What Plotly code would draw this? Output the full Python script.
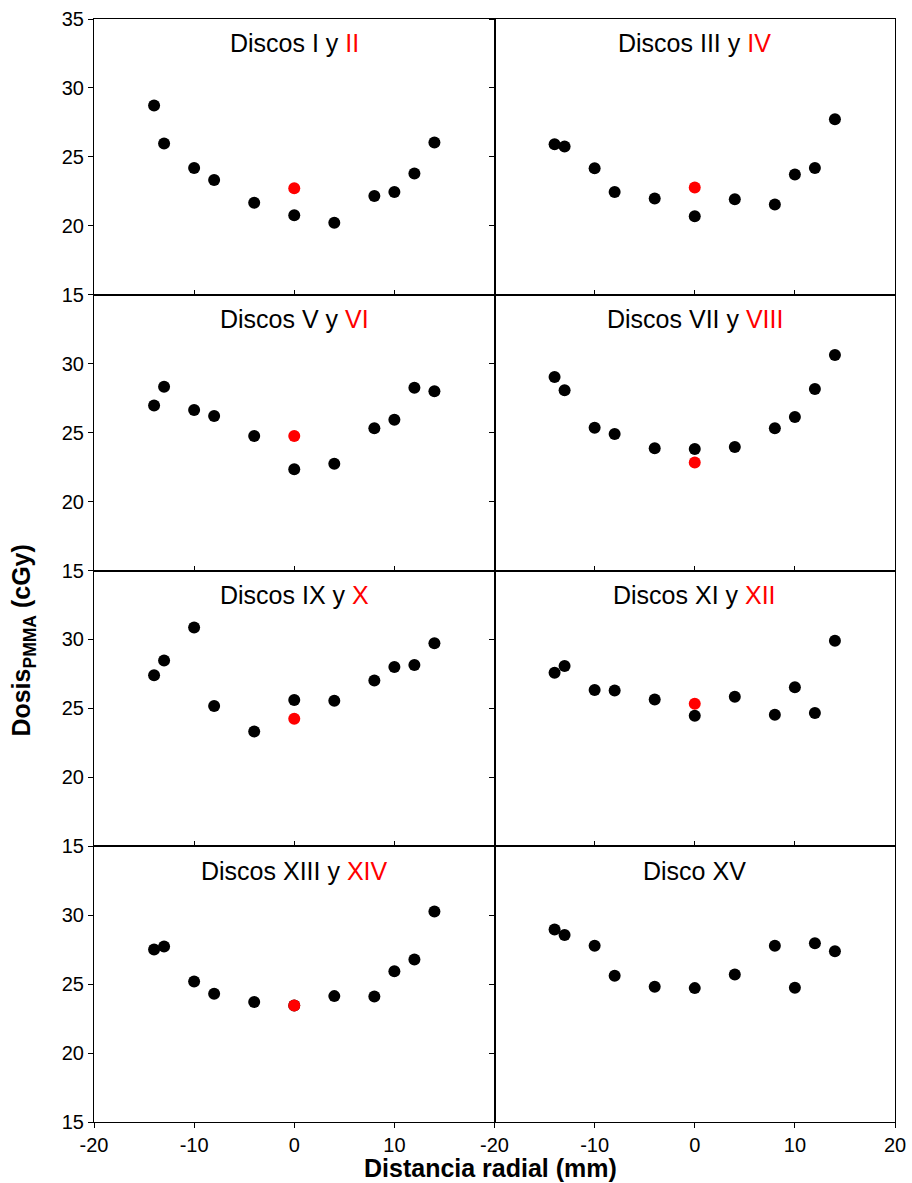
import plotly.graph_objects as go
from plotly.subplots import make_subplots

# Radial positions (mm) of the measurement points
radial_mm = [-14, -13, -10, -8, -4, 0, 4, 8, 10, 12, 14]

# Dose (cGy) per disc pair, black series
dose_I = [28.72, 25.97, 24.20, 23.33, 21.67, 20.77, 20.22, 22.17, 22.46, 23.79, 26.04]
dose_III = [25.92, 25.75, 24.18, 22.46, 21.98, 20.70, 21.93, 21.55, 23.72, 24.20, 27.73]
dose_V = [26.96, 28.33, 26.64, 26.21, 24.75, 22.34, 22.75, 25.31, 25.94, 28.26, 28.00]
dose_VII = [29.03, 28.07, 25.36, 24.90, 23.86, 23.82, 23.96, 25.31, 26.14, 28.16, 30.63]
dose_IX = [27.41, 28.48, 30.87, 25.17, 23.33, 25.60, 25.56, 27.03, 28.00, 28.14, 29.73]
dose_XI = [27.58, 28.07, 26.33, 26.30, 25.65, 24.47, 25.85, 24.54, 26.54, 24.66, 29.90]
dose_XIII = [27.51, 27.73, 25.19, 24.30, 23.70, 23.45, 24.13, 24.11, 25.94, 26.79, 30.27]
dose_XV = [28.96, 28.57, 27.78, 25.60, 24.81, 24.71, 25.70, 27.78, 24.73, 27.97, 27.39]

# Dose (cGy) at the centre for the second disc of each pair, red series
center_x = [0]
dose_II = [22.73]
dose_IV = [22.78]
dose_VI = [24.75]
dose_VIII = [22.83]
dose_X = [24.25]
dose_XII = [25.34]
dose_XIV = [23.45]

panels = [
    ("Discos I y ", "II", dose_I, dose_II),
    ("Discos III y ", "IV", dose_III, dose_IV),
    ("Discos V y ", "VI", dose_V, dose_VI),
    ("Discos VII y ", "VIII", dose_VII, dose_VIII),
    ("Discos IX y ", "X", dose_IX, dose_X),
    ("Discos XI y ", "XII", dose_XI, dose_XII),
    ("Discos XIII y ", "XIV", dose_XIII, dose_XIV),
    ("Disco XV", "", dose_XV, None),
]

x_ticks = [-20, -10, 0, 10, 20]
y_ticks_top = [15, 20, 25, 30, 35]
y_ticks = [15, 20, 25, 30]

FONT = "Liberation Sans, Arial, sans-serif"

fig = make_subplots(rows=4, cols=2, horizontal_spacing=0, vertical_spacing=0)

for i, (label, red_label, black_vals, red_vals) in enumerate(panels):
    row, col = i // 2 + 1, i % 2 + 1
    fig.add_trace(
        go.Scatter(x=radial_mm, y=black_vals, mode="markers",
                   marker=dict(color="black", size=12), showlegend=False),
        row=row, col=col,
    )
    if red_vals is not None:
        fig.add_trace(
            go.Scatter(x=center_x, y=red_vals, mode="markers",
                       marker=dict(color="#ff0000", size=12), showlegend=False),
            row=row, col=col,
        )
    idx = "" if i == 0 else str(i + 1)
    text = label + (f"<span style='color:#ff0000'>{red_label}</span>" if red_label else "")
    fig.add_annotation(
        text=text, xref=f"x{idx} domain", yref=f"y{idx} domain",
        x=0.5, y=0.912, xanchor="center", yanchor="middle", showarrow=False,
        font=dict(family=FONT, size=25, color="black"),
    )

    bottom = row == 4
    left = col == 1
    # x axis: labelled ticks only along the bottom row
    if bottom:
        xt = x_ticks if col == 2 else x_ticks[:-1]
        fig.update_xaxes(tickvals=x_ticks, ticktext=[str(v) if v in xt else "" for v in x_ticks],
                         ticks="outside", showticklabels=True, row=row, col=col)
    else:
        fig.update_xaxes(tickvals=x_ticks, ticks="inside", showticklabels=False,
                         row=row, col=col)
    # y axis: labels on the left column only
    yt = y_ticks_top if row == 1 else y_ticks
    fig.update_yaxes(tickvals=yt, ticks="outside", showticklabels=left,
                     row=row, col=col)

fig.update_xaxes(range=[-20, 20], showgrid=False, zeroline=False, showline=True,
                 linecolor="black", linewidth=1, mirror=True, ticklen=5,
                 tickcolor="black", tickwidth=1, automargin=False,
                 tickfont=dict(family=FONT, size=20, color="black"))
fig.update_yaxes(range=[15, 35], showgrid=False, zeroline=False, showline=True,
                 linecolor="black", linewidth=1, mirror=True, ticklen=5,
                 tickcolor="black", tickwidth=1, automargin=False,
                 tickfont=dict(family=FONT, size=20, color="black"))

# Shared axis titles
fig.add_annotation(
    text="<b>Distancia radial (mm)</b>", xref="paper", yref="paper",
    x=0.495, y=-0.0415, xanchor="center", yanchor="middle", showarrow=False,
    font=dict(family=FONT, size=25, color="black"),
)
fig.add_annotation(
    text="<b>Dosis<sub>PMMA</sub> (cGy)</b>", xref="paper", yref="paper",
    x=-0.088, y=0.436, xanchor="center", yanchor="middle", showarrow=False,
    textangle=-90, font=dict(family=FONT, size=25, color="black"),
)

fig.update_layout(
    width=912, height=1183,
    margin=dict(l=94, r=17, t=19, b=61, autoexpand=False),
    paper_bgcolor="white", plot_bgcolor="white",
    font=dict(family=FONT, color="black"),
)

fig.write_html("out.html")
